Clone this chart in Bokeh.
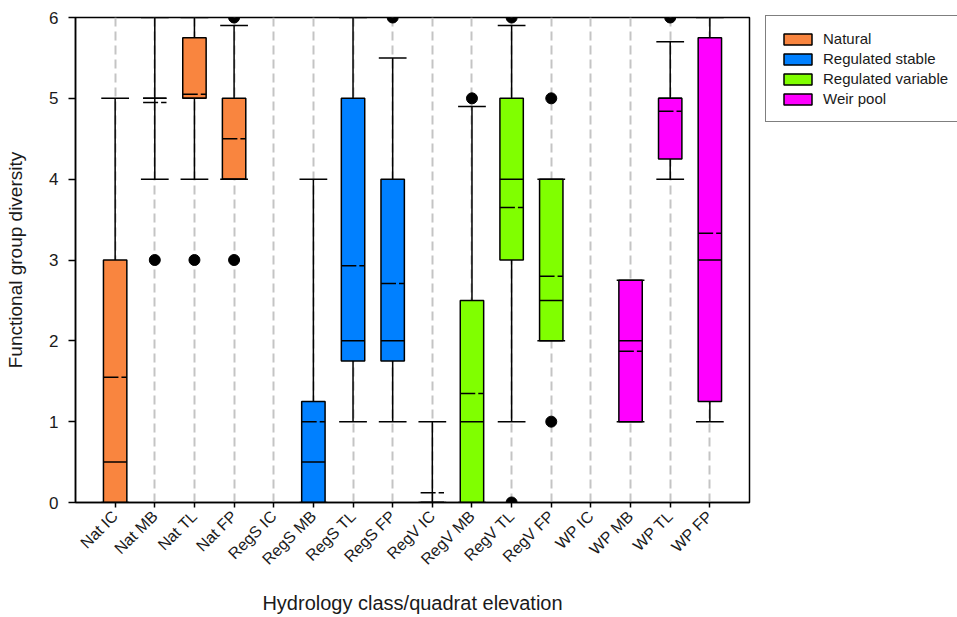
import math

from bokeh.embed import file_html
from bokeh.models import ColumnDataSource, FixedTicker, Legend, LegendItem, Range1d
from bokeh.plotting import figure
from bokeh.resources import INLINE

# Hydrology class / quadrat elevation categories, in plotting order
categories = [
    "Nat IC", "Nat MB", "Nat TL", "Nat FP",
    "RegS IC", "RegS MB", "RegS TL", "RegS FP",
    "RegV IC", "RegV MB", "RegV TL", "RegV FP",
    "WP IC", "WP MB", "WP TL", "WP FP",
]
hydrology = [
    "Natural", "Natural", "Natural", "Natural",
    "Regulated stable", "Regulated stable", "Regulated stable", "Regulated stable",
    "Regulated variable", "Regulated variable", "Regulated variable", "Regulated variable",
    "Weir pool", "Weir pool", "Weir pool", "Weir pool",
]

# Box-plot summaries of functional group diversity (None = no quadrats)
lower_whisker = [0, 4, 4, 4, None, 0, 1, 1, 0, 0, 1, 2, None, 1, 4, 1]
q1 = [0, 5, 5, 4, None, 0, 1.75, 1.75, 0, 0, 3, 2, None, 1, 4.25, 1.25]
median = [0.5, 5, 5, 4, None, 0.5, 2, 2, 0, 1, 4, 2.5, None, 2, 5, 3]
q3 = [3, 5, 5.75, 5, None, 1.25, 5, 4, 0, 2.5, 5, 4, None, 2.75, 5, 5.75]
upper_whisker = [5, 6, 6, 5.9, None, 4, 6, 5.5, 1, 4.9, 5.9, 4, None, 2.75, 5.7, 6]
mean = [1.55, 4.95, 5.05, 4.5, None, 1.0, 2.93, 2.71, 0.12, 1.35, 3.65, 2.8, None, 1.87, 4.84, 3.33]

# Individual outlying quadrats
outlier_category = ["Nat MB", "Nat TL", "Nat FP", "Nat FP", "RegS FP", "RegV MB",
                    "RegV TL", "RegV TL", "RegV FP", "RegV FP", "WP TL"]
outlier_value = [3, 3, 6, 3, 6, 5, 6, 0, 5, 1, 6]

group_names = ["Natural", "Regulated stable", "Regulated variable", "Weir pool"]
group_colors = ["#F9853F", "#0080FF", "#80FF00", "#FF00FF"]

BOX_W = 0.59
CAP_W = 0.70
FONT = "Liberation Sans"
INK = "#1a1a1a"

positions = {c: i + 1 for i, c in enumerate(categories)}

p = figure(
    frame_width=674, frame_height=485,
    x_range=Range1d(0, len(categories) + 1), y_range=Range1d(0, 6),
    output_backend="svg", toolbar_location=None,
    min_border_left=75, min_border_right=208, min_border_top=17, min_border_bottom=115,
    background_fill_color="white", border_fill_color="white",
)
p.outline_line_color = "black"
p.outline_line_width = 1.5

# Dashed guide line behind every category
p.ygrid.visible = False
p.xgrid.ticker = FixedTicker(ticks=list(positions.values()))
p.xgrid.grid_line_color = "#c4c4c4"
p.xgrid.grid_line_width = 2
p.xgrid.grid_line_dash = "9 5"

# Assemble drawable rows, skipping empty categories
rows = [i for i in range(len(categories)) if q1[i] is not None]


def col(values):
    return [values[i] for i in rows]


xs = [positions[categories[i]] for i in rows]
whisk = ColumnDataSource(dict(
    x=xs, lo=col(lower_whisker), q1=col(q1), q3=col(q3), hi=col(upper_whisker),
    cl=[x - CAP_W / 2 for x in xs], cr=[x + CAP_W / 2 for x in xs],
    bl=[x - BOX_W / 2 for x in xs], br=[x + BOX_W / 2 for x in xs],
    med=col(median), mean=col(mean),
))

# Whisker stems
p.segment(x0="x", y0="q3", x1="x", y1="hi", source=whisk, line_color="black", line_width=1.5)
p.segment(x0="x", y0="lo", x1="x", y1="q1", source=whisk, line_color="black", line_width=1.5)

# Boxes, one renderer per hydrology class for the legend
legend_items = []
for name, color in zip(group_names, group_colors):
    idx = [i for i in rows if hydrology[i] == name]
    src = ColumnDataSource(dict(
        x=[positions[categories[i]] for i in idx],
        bottom=[q1[i] for i in idx],
        top=[q3[i] for i in idx],
    ))
    r = p.vbar(x="x", width=BOX_W, bottom="bottom", top="top", source=src,
               fill_color=color, line_color="black", line_width=1.5)
    legend_items.append(LegendItem(label=name, renderers=[r]))

# Median (solid) and mean (dashed) lines
p.segment(x0="bl", y0="med", x1="br", y1="med", source=whisk, line_color="black", line_width=1.5)
p.segment(x0="bl", y0="mean", x1="br", y1="mean", source=whisk, line_color="black",
          line_width=1.5, line_dash="15 3")

# Whisker caps
p.segment(x0="cl", y0="hi", x1="cr", y1="hi", source=whisk, line_color="black", line_width=1.5)
p.segment(x0="cl", y0="lo", x1="cr", y1="lo", source=whisk, line_color="black", line_width=1.5)

# Outliers
out = ColumnDataSource(dict(x=[positions[c] for c in outlier_category], y=outlier_value))
p.scatter(x="x", y="y", source=out, size=11, marker="circle", color="black")

legend = Legend(items=legend_items, location=(16, 380))
legend.label_text_font = FONT
legend.label_text_font_size = "15px"
legend.label_text_color = INK
legend.glyph_width = 35
legend.glyph_height = 14
legend.label_height = 14
legend.label_standoff = 8
legend.spacing = 3
legend.padding = 14
legend.margin = 0
legend.border_line_color = "black"
legend.border_line_width = 1.5
legend.background_fill_alpha = 1
p.add_layout(legend, "right")

# Axes
xa = p.xaxis[0]
xa.ticker = FixedTicker(ticks=list(positions.values()))
xa.major_label_overrides = {v: k for k, v in positions.items()}
xa.major_label_orientation = math.pi / 4
xa.major_label_text_font = FONT
xa.major_label_text_font_size = "16px"
xa.major_label_text_color = INK
xa.major_label_standoff = 6
xa.major_tick_out = 5
xa.major_tick_in = 0
xa.minor_tick_line_color = None
xa.axis_line_width = 1.5
xa.major_tick_line_width = 1.5
xa.axis_label = "Hydrology class/quadrat elevation"
xa.axis_label_text_font = FONT
xa.axis_label_text_font_size = "20px"
xa.axis_label_text_font_style = "normal"
xa.axis_label_text_color = INK
xa.axis_label_standoff = 15

ya = p.yaxis[0]
ya.ticker = FixedTicker(ticks=[0, 1, 2, 3, 4, 5, 6])
ya.major_label_text_font = FONT
ya.major_label_text_font_size = "17px"
ya.major_label_text_color = INK
ya.major_label_standoff = 10
ya.major_tick_out = 7
ya.major_tick_in = 0
ya.minor_tick_line_color = None
ya.axis_line_width = 1.5
ya.major_tick_line_width = 1.5
ya.axis_label = "Functional group diversity"
ya.axis_label_text_font = FONT
ya.axis_label_text_font_size = "19px"
ya.axis_label_text_font_style = "normal"
ya.axis_label_text_color = INK
ya.axis_label_standoff = 20

open("out.html", "w").write(file_html(p, INLINE))
